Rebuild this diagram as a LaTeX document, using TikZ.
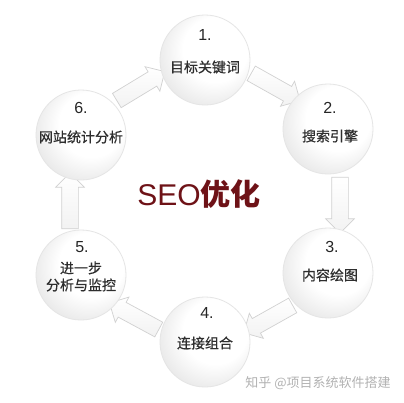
\documentclass[tikz,border=0pt]{standalone}
\usepackage{fontspec}
\setmainfont{Liberation Sans}
\newfontfamily\cjk{Noto Sans CJK SC}
\newfontfamily\cjkm[FakeBold=0.6]{Noto Sans CJK SC}
\usetikzlibrary{shapes.arrows,calc,backgrounds}
\pgfdeclareradialshading{sphere}{\pgfpoint{9bp}{9bp}}{color(0bp)=(white); color(18bp)=(white); color(34bp)=(black!11); color(50bp)=(black!11)}
\definecolor{seored}{HTML}{6E1217}
\definecolor{txtgrey}{HTML}{2E2E2E}
\begin{document}
\begin{tikzpicture}[x=1pt,y=-1pt,
  ball/.style={circle, minimum size=90pt, inner sep=0pt, shading=sphere, draw=black!10, line width=0.8pt},
  num/.style={font=\fontsize{16}{16}\selectfont, text=black!85, inner sep=0pt},
  lab/.style={font=\cjkm\fontsize{14}{17}\selectfont, text=txtgrey, inner sep=0pt, align=center},
  flow/.style={single arrow, single arrow head extend=6pt, inner sep=8pt, minimum height=56pt, minimum width=0pt, draw=black!18, line width=0.7pt, top color=white, bottom color=black!5, sloped, allow upside down, midway}
]
% circles
\node[ball] (n1) at (205,60) {};
\node[ball] (n2) at (328,129) {};
\node[ball] (n3) at (328,273) {};
\node[ball] (n4) at (205,342) {};
\node[ball] (n5) at (81,275) {};
\node[ball] (n6) at (81,135) {};
% labels
\node[num] (m1) at ($(n1)+(0,-25)$) {1.};
\node[lab] (l1) at ($(n1)+(0,7)$) {目标关键词};
\node[num] (m2) at ($(n2)+(2,-21)$) {2.};
\node[lab] (l2) at ($(n2)+(2,7)$) {搜索引擎};
\node[num] (m3) at ($(n3)+(4,-26)$) {3.};
\node[lab] (l3) at ($(n3)+(2,2)$) {内容绘图};
\node[num] (m4) at ($(n4)+(2,-29)$) {4.};
\node[lab] (l4) at ($(n4)+(0,1)$) {连接组合};
\node[num] (m5) at ($(n5)+(1,-28)$) {5.};
\node[lab] (l5) at ($(n5)+(0,1.5)$) {进一步\\分析与监控};
\node[num] (m6) at ($(n6)+(0,-27)$) {6.};
\node[lab] (l6) at ($(n6)+(0,2)$) {网站统计分析};
% centre title
\node[anchor=base, inner sep=0pt, text=seored, font=\fontsize{30}{30}\selectfont] (title) at (199,205) {SEO{\cjk\bfseries 优化}};
% watermark
\node[inner sep=0pt, text=black!30, font=\cjk\fontsize{13}{13}\selectfont] (wm) at (318,383) {知乎 @项目系统软件搭建};
% arrows behind circles
\begin{scope}[on background layer]
\fill[white] (0,0) rectangle (404,402);
\path ($(n1)+(5.5,-9.5)$) -- ($(n2)+(5.5,-9.5)$) node[flow] (a12) {};
\path ($(n2)+(12,0)$) -- ($(n3)+(12,0)$) node[flow] (a23) {};
\path ($(n3)+(5.4,9.6)$) -- ($(n4)+(5.4,9.6)$) node[flow] (a34) {};
\path ($(n4)+(-5.2,9.7)$) -- ($(n5)+(-5.2,9.7)$) node[flow] (a45) {};
\path ($(n5)+(-11,0)$) -- ($(n6)+(-11,0)$) node[flow] (a56) {};
\path ($(n6)+(-5.8,-9.3)$) -- ($(n1)+(-5.8,-9.3)$) node[flow] (a61) {};
\end{scope}
\end{tikzpicture}
\end{document}
